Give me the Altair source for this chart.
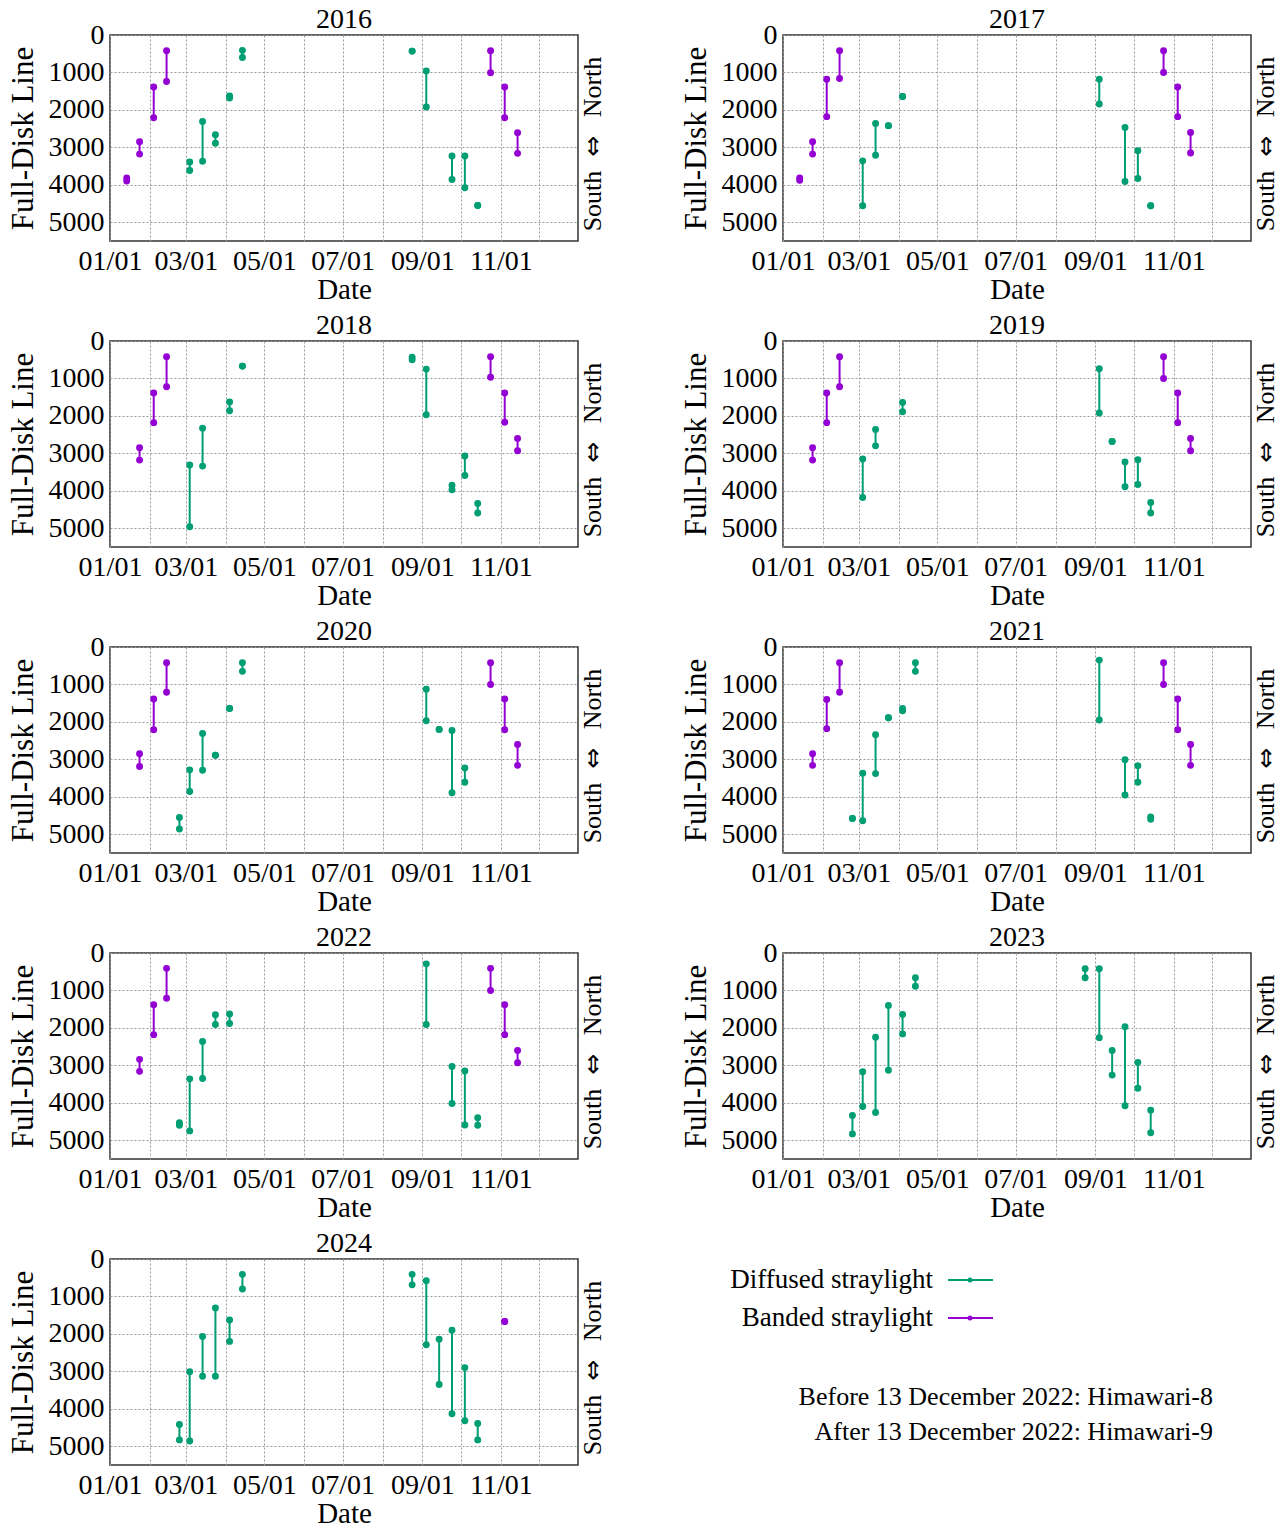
import altair as alt
import pandas as pd

FONT = "Liberation Serif, Times New Roman, serif"
SYMFONT = "DejaVu Sans, sans-serif"
GREEN = "#009E73"
PURPLE = "#9400D3"

# Each record: (month-day, kind, top line, bottom line); kind D = diffused, B = banded
Y2016 = [("01-14", "B", 3820, 3900), ("01-24", "B", 2850, 3180), ("02-04", "B", 1390, 2210),
         ("02-14", "B", 420, 1240), ("03-04", "D", 3390, 3620), ("03-14", "D", 2310, 3370),
         ("03-24", "D", 2660, 2890), ("04-04", "D", 1630, 1680), ("04-14", "D", 410, 600),
         ("08-24", "D", 430, 430), ("09-04", "D", 960, 1920), ("09-24", "D", 3230, 3860),
         ("10-04", "D", 3230, 4080), ("10-14", "D", 4550, 4550), ("10-24", "B", 420, 1010),
         ("11-04", "B", 1390, 2210), ("11-14", "B", 2610, 3160)]
Y2017 = [("01-14", "B", 3820, 3880), ("01-24", "B", 2850, 3180), ("02-04", "B", 1180, 2180),
         ("02-14", "B", 420, 1160), ("03-04", "D", 3360, 4560), ("03-14", "D", 2360, 3210),
         ("03-24", "D", 2420, 2420), ("04-04", "D", 1640, 1640), ("09-04", "D", 1180, 1840),
         ("09-24", "D", 2470, 3910), ("10-04", "D", 3090, 3830), ("10-14", "D", 4560, 4560),
         ("10-24", "B", 420, 1000), ("11-04", "B", 1390, 2180), ("11-14", "B", 2600, 3150)]
Y2018 = [("01-24", "B", 2850, 3180), ("02-04", "B", 1390, 2180), ("02-14", "B", 420, 1220),
         ("03-04", "D", 3310, 4960), ("03-14", "D", 2330, 3340), ("04-04", "D", 1630, 1860),
         ("04-14", "D", 670, 670), ("08-24", "D", 430, 500), ("09-04", "D", 750, 1970),
         ("09-24", "D", 3850, 3970), ("10-04", "D", 3070, 3590), ("10-14", "D", 4340, 4590),
         ("10-24", "B", 420, 970), ("11-04", "B", 1390, 2170), ("11-14", "B", 2600, 2930)]
Y2019 = [("01-24", "B", 2850, 3180), ("02-04", "B", 1390, 2180), ("02-14", "B", 420, 1220),
         ("03-04", "D", 3150, 4180), ("03-14", "D", 2360, 2800), ("04-04", "D", 1640, 1890),
         ("09-04", "D", 740, 1920), ("09-14", "D", 2680, 2680), ("09-24", "D", 3230, 3890),
         ("10-04", "D", 3170, 3830), ("10-14", "D", 4310, 4590), ("10-24", "B", 420, 1000),
         ("11-04", "B", 1390, 2180), ("11-14", "B", 2600, 2930)]
Y2020 = [("01-24", "B", 2850, 3190), ("02-04", "B", 1390, 2210), ("02-14", "B", 420, 1210),
         ("02-24", "D", 4550, 4860), ("03-04", "D", 3280, 3860), ("03-14", "D", 2310, 3290),
         ("03-24", "D", 2890, 2890), ("04-04", "D", 1640, 1640), ("04-14", "D", 420, 650),
         ("09-04", "D", 1130, 1970), ("09-14", "D", 2200, 2200), ("09-24", "D", 2230, 3890),
         ("10-04", "D", 3230, 3610), ("10-24", "B", 420, 1000), ("11-04", "B", 1390, 2210),
         ("11-14", "B", 2600, 3160)]
Y2021 = [("01-24", "B", 2850, 3160), ("02-04", "B", 1400, 2180), ("02-14", "B", 420, 1210),
         ("02-24", "D", 4580, 4580), ("03-04", "D", 3370, 4640), ("03-14", "D", 2340, 3380),
         ("03-24", "D", 1890, 1890), ("04-04", "D", 1640, 1700), ("04-14", "D", 420, 650),
         ("09-04", "D", 350, 1950), ("09-24", "D", 3010, 3950), ("10-04", "D", 3170, 3610),
         ("10-14", "D", 4540, 4600), ("10-24", "B", 420, 1000), ("11-04", "B", 1390, 2210),
         ("11-14", "B", 2600, 3160)]
Y2022 = [("01-24", "B", 2840, 3160), ("02-04", "B", 1380, 2180), ("02-14", "B", 410, 1210),
         ("02-24", "D", 4530, 4600), ("03-04", "D", 3360, 4750), ("03-14", "D", 2360, 3350),
         ("03-24", "D", 1650, 1910), ("04-04", "D", 1630, 1880), ("09-04", "D", 290, 1910),
         ("09-24", "D", 3030, 4020), ("10-04", "D", 3150, 4590), ("10-14", "D", 4400, 4600),
         ("10-24", "B", 410, 1000), ("11-04", "B", 1380, 2180), ("11-14", "B", 2600, 2930)]
Y2023 = [("02-24", "D", 4340, 4830), ("03-04", "D", 3170, 4100), ("03-14", "D", 2250, 4260),
         ("03-24", "D", 1400, 3130), ("04-04", "D", 1640, 2160), ("04-14", "D", 660, 890),
         ("08-24", "D", 420, 660), ("09-04", "D", 420, 2260), ("09-14", "D", 2600, 3260),
         ("09-24", "D", 1970, 4080), ("10-04", "D", 2920, 3610), ("10-14", "D", 4200, 4800)]
Y2024 = [("02-24", "D", 4420, 4830), ("03-04", "D", 3010, 4860), ("03-14", "D", 2070, 3130),
         ("03-24", "D", 1310, 3130), ("04-04", "D", 1630, 2200), ("04-14", "D", 410, 800),
         ("08-24", "D", 410, 690), ("09-04", "D", 580, 2290), ("09-14", "D", 2140, 3350),
         ("09-24", "D", 1900, 4130), ("10-04", "D", 2900, 4320), ("10-14", "D", 4390, 4830),
         ("11-04", "B", 1670, 1670)]

YEARS = [2016, 2017, 2018, 2019, 2020, 2021, 2022, 2023, 2024]
SERIES = [Y2016, Y2017, Y2018, Y2019, Y2020, Y2021, Y2022, Y2023, Y2024]
Y_TICKS = [0, 1000, 2000, 3000, 4000, 5000]
KINDS = ["D", "B"]
LEGEND_LABELS = ["Diffused straylight", "Banded straylight"]
NOTES = ["Before 13 December 2022: Himawari-8", "After 13 December 2022: Himawari-9"]
SIDE_WORDS = ["North", "\u21d4", "South"]

W, H = 468, 206


def dt(m, d):
    return alt.DateTime(year=2001, month=m, date=d, utc=True)


x_scale = alt.Scale(type="utc", domain=[dt(1, 1), dt(12, 31)], nice=False)
x_axis = alt.Axis(values=[dt(m, 1) for m in range(1, 13)],
                  labelExpr="utcmonth(datum.value) % 2 == 0 ? utcFormat(datum.value, '%m/%d') : ''",
                  labelOverlap=False, labelFlush=False, labelFontSize=28, labelPadding=6,
                  titleFontSize=29, titlePadding=0, grid=True)
y_scale = alt.Scale(domain=[0, 5500], reverse=True, nice=False, zero=False)
y_axis = alt.Axis(values=Y_TICKS, format="d", labelFontSize=28, labelPadding=6, titleFontSize=31,
                  titlePadding=9, grid=True)
color = alt.Color("kind:N", scale=alt.Scale(domain=KINDS, range=[GREEN, PURPLE]), legend=None)


def panel(year, rows):
    df = pd.DataFrame(rows, columns=["md", "kind", "top", "bottom"])
    df["date"] = "2001-" + df["md"]
    base = alt.Chart(df)
    x = alt.X("date:T", scale=x_scale, axis=x_axis, title="Date")
    rules = base.mark_rule(strokeWidth=2).encode(
        x=x,
        y=alt.Y("top:Q", scale=y_scale, axis=y_axis, title="Full-Disk Line"),
        y2="bottom:Q",
        color=color,
    )
    pts = base.transform_fold(["top", "bottom"], as_=["end", "value"]).mark_point(
        filled=True, shape="circle", size=48, opacity=1
    ).encode(
        x=x,
        y=alt.Y("value:Q", scale=y_scale, axis=y_axis, title="Full-Disk Line"),
        color=color,
    )
    side = []
    for word, yy in zip(SIDE_WORDS, [52, 111, 166]):
        is_sym = word == "\u21d4"
        side.append(alt.Chart(pd.DataFrame({"t": [word]})).mark_text(
            angle=270, font=SYMFONT if is_sym else FONT, fontSize=25 if is_sym else 26,
            align="center", baseline="middle", color="black"
        ).encode(x=alt.value(W + 15), y=alt.value(yy), text="t:N"))
    return alt.layer(rules, pts, *side).properties(
        width=W, height=H,
        title=alt.TitleParams(text=str(year), fontSize=28, font=FONT, fontWeight="normal", offset=-13),
    )


def legend_panel():
    layers = []
    ys = [21, 59]
    cols = [GREEN, PURPLE]
    for lab, yy, c in zip(LEGEND_LABELS, ys, cols):
        d = alt.Chart(pd.DataFrame({"t": [lab]}))
        layers.append(d.mark_text(font=FONT, fontSize=27, align="right", baseline="middle",
                                  color="black").encode(x=alt.value(150), y=alt.value(yy), text="t:N"))
        layers.append(d.mark_rule(color=c, strokeWidth=2).encode(
            x=alt.value(165), x2=alt.value(210), y=alt.value(yy)))
        layers.append(d.mark_point(filled=True, shape="circle", size=25, color=c, opacity=1).encode(
            x=alt.value(187), y=alt.value(yy)))
    for note, yy in zip(NOTES, [138, 173]):
        d = alt.Chart(pd.DataFrame({"t": [note]}))
        layers.append(d.mark_text(font=FONT, fontSize=26, align="right", baseline="middle",
                                  color="black").encode(x=alt.value(430), y=alt.value(yy), text="t:N"))
    return alt.layer(*layers).properties(width=W, height=H, view=alt.ViewBackground(strokeOpacity=0))


panels = [panel(y, r) for y, r in zip(YEARS, SERIES)] + [legend_panel()]

chart = alt.concat(*panels, columns=2, spacing={"row": 100, "column": 205}, bounds="flush").properties(
    padding={"left": 6, "top": 5, "right": 0, "bottom": 0}
).configure_view(stroke="#333", strokeWidth=1.5).configure_axis(
    labelFont=FONT, titleFont=FONT, labelColor="black", titleColor="black",
    titleFontWeight="normal", gridColor="#9a9a9a", gridDash=[2, 2], gridWidth=1,
    domain=False, ticks=False
).configure_title(font=FONT, fontWeight="normal", color="black")

chart.save("out.html", embed_options={"renderer": "svg", "actions": False})
